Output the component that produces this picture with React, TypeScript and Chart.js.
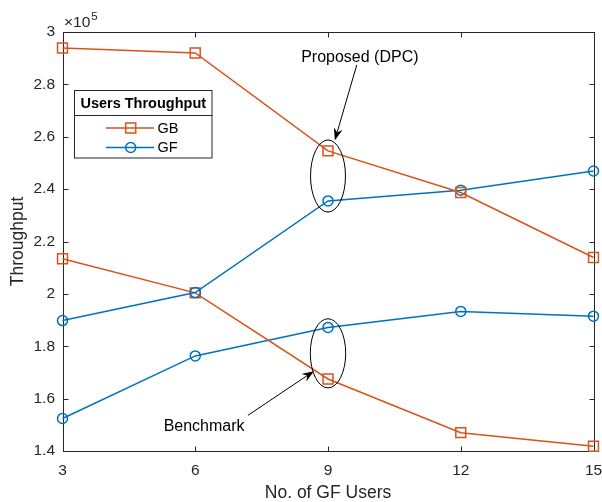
import React, { useEffect, useRef } from "react";
import { Chart, registerables } from "chart.js";
Chart.register(...registerables);

const categories = [3, 6, 9, 12, 15];
const gbProposed = [293900, 292000, 254600, 238700, 213900];
const gfProposed = [189800, 200500, 235500, 239600, 246900];
const gbBenchmark = [213400, 200400, 167500, 147000, 141800];
const gfBenchmark = [152400, 176300, 187200, 193300, 191500];
const yTicks = [140000, 160000, 180000, 200000, 220000, 240000, 260000, 280000, 300000];
const legendTitle = "Users Throughput";
const legendLabels = ["GB", "GF"];
const xTitle = "No. of GF Users";
const yTitle = "Throughput";
const proposedLabel = "Proposed (DPC)";
const benchmarkLabel = "Benchmark";

const ORANGE = "#D95319";
const BLUE = "#0072BD";
const AXIS = "#262626";
const FONT = "'Liberation Sans', Arial, Helvetica, sans-serif";

function pts(vals: number[]) {
  return categories.map((c, i) => ({ x: c, y: vals[i] }));
}

function drawArrow(ctx: CanvasRenderingContext2D, x1: number, y1: number, x2: number, y2: number) {
  const ang = Math.atan2(y2 - y1, x2 - x1);
  const len = 12, hw = 4.5, notch = 8;
  ctx.beginPath();
  ctx.moveTo(x1, y1);
  ctx.lineTo(x2 - Math.cos(ang) * notch, y2 - Math.sin(ang) * notch);
  ctx.strokeStyle = "#000";
  ctx.lineWidth = 1;
  ctx.stroke();
  const bx = x2 - Math.cos(ang) * len, by = y2 - Math.sin(ang) * len;
  const nx = -Math.sin(ang), ny = Math.cos(ang);
  ctx.beginPath();
  ctx.moveTo(x2, y2);
  ctx.lineTo(bx + nx * hw, by + ny * hw);
  ctx.lineTo(x2 - Math.cos(ang) * notch, y2 - Math.sin(ang) * notch);
  ctx.lineTo(bx - nx * hw, by - ny * hw);
  ctx.closePath();
  ctx.fillStyle = "#000";
  ctx.fill();
}

const decor = {
  id: "decor",
  beforeDatasetsDraw(chart: any) {
    const { ctx, chartArea, scales } = chart;
    const { left, right, top, bottom } = chartArea;
    const L = Math.round(left) + 0.5, R = Math.round(right) + 0.5;
    const T = Math.round(top) + 0.5, B = Math.round(bottom) + 0.5;
    ctx.save();
    ctx.strokeStyle = AXIS;
    ctx.lineWidth = 1;
    ctx.strokeRect(L, T, R - L, B - T);
    const tl = 5;
    ctx.beginPath();
    categories.forEach((c) => {
      const px = Math.round(scales.x.getPixelForValue(c)) + 0.5;
      ctx.moveTo(px, B); ctx.lineTo(px, B - tl);
      ctx.moveTo(px, T); ctx.lineTo(px, T + tl);
    });
    yTicks.forEach((v) => {
      const py = Math.round(scales.y.getPixelForValue(v)) + 0.5;
      ctx.moveTo(L, py); ctx.lineTo(L + tl, py);
      ctx.moveTo(R, py); ctx.lineTo(R - tl, py);
    });
    ctx.stroke();
    ctx.restore();
  },
  afterDraw(chart: any) {
    const { ctx, chartArea, scales } = chart;
    const { left, right, top, bottom } = chartArea;
    const xs = scales.x, ys = scales.y;
    ctx.save();
    // exponent label
    ctx.fillStyle = AXIS;
    ctx.textBaseline = "alphabetic";
    ctx.textAlign = "left";
    ctx.font = `15.5px ${FONT}`;
    ctx.fillText("\u00d710", left + 1.5, 27);
    const w = ctx.measureText("\u00d710").width;
    ctx.font = `11.5px ${FONT}`;
    ctx.fillText("5", left + 1.5 + w + 1, 20);

    // axis titles
    ctx.font = `17.5px ${FONT}`;
    ctx.textAlign = "center";
    ctx.textBaseline = "middle";
    ctx.fillText(xTitle, (left + right) / 2, 493);
    ctx.save();
    ctx.translate(18, (top + bottom) / 2);
    ctx.rotate(-Math.PI / 2);
    ctx.fillText(yTitle, 0, 0);
    ctx.restore();

    // ellipses
    const ell = (cx: number, cy: number, rxu: number, ryu: number) => {
      const px = xs.getPixelForValue(cx), py = ys.getPixelForValue(cy);
      const rx = Math.abs(xs.getPixelForValue(cx + rxu) - px);
      const ry = Math.abs(ys.getPixelForValue(cy + ryu) - py);
      ctx.beginPath();
      ctx.ellipse(px, py, rx, ry, 0, 0, Math.PI * 2);
      ctx.strokeStyle = "#000";
      ctx.lineWidth = 1;
      ctx.stroke();
    };
    ell(9, 245000, 0.395, 13760);
    ell(9, 177300, 0.4, 13200);

    // arrows
    drawArrow(ctx, xs.getPixelForValue(9.65), ys.getPixelForValue(287400), xs.getPixelForValue(9.155), ys.getPixelForValue(258700));
    drawArrow(ctx, xs.getPixelForValue(7.19), ys.getPixelForValue(153600), xs.getPixelForValue(8.68), ys.getPixelForValue(170500));

    // annotation texts
    ctx.fillStyle = "#000";
    ctx.font = `16px ${FONT}`;
    ctx.textAlign = "center";
    ctx.textBaseline = "middle";
    ctx.fillText(proposedLabel, xs.getPixelForValue(9.72), ys.getPixelForValue(290400));
    ctx.fillText(benchmarkLabel, xs.getPixelForValue(6.2), ys.getPixelForValue(149400));

    // legend
    const lx = 74.5, ly = 90.5, lw = 137.5, lh = 67.5;
    ctx.fillStyle = "#fff";
    ctx.fillRect(lx, ly, lw, lh);
    ctx.strokeStyle = AXIS;
    ctx.lineWidth = 1;
    ctx.strokeRect(lx, ly, lw, lh);
    ctx.beginPath();
    ctx.moveTo(lx, 115.5); ctx.lineTo(lx + lw, 115.5);
    ctx.stroke();
    ctx.fillStyle = "#000";
    ctx.font = `bold 14.5px ${FONT}`;
    ctx.textAlign = "center";
    ctx.fillText(legendTitle, lx + lw / 2, 103.5);
    const rows = [
      { y: 128, c: ORANGE, shape: "rect" },
      { y: 147.5, c: BLUE, shape: "circle" },
    ];
    rows.forEach((r, i) => {
      ctx.strokeStyle = r.c;
      ctx.lineWidth = 1.5;
      ctx.beginPath();
      ctx.moveTo(106, r.y); ctx.lineTo(154, r.y);
      ctx.stroke();
      ctx.beginPath();
      if (r.shape === "rect") ctx.rect(130.7 - 5, r.y - 5, 10, 10);
      else ctx.arc(130.7, r.y, 5, 0, Math.PI * 2);
      ctx.stroke();
      ctx.fillStyle = "#000";
      ctx.font = `14.5px ${FONT}`;
      ctx.textAlign = "left";
      ctx.fillText(legendLabels[i], 157.5, r.y + 0.5);
    });
    ctx.restore();
  },
};

export default function App() {
  const ref = useRef<HTMLCanvasElement>(null);
  useEffect(() => {
    if (!ref.current) return;
    const mk = (label: string, vals: number[], color: string, shape: string) => ({
      label,
      data: pts(vals),
      borderColor: color,
      backgroundColor: "transparent",
      borderWidth: 1.5,
      pointStyle: shape,
      pointRadius: shape === "rect" ? 7 : 5,
      pointBorderWidth: 1.5,
      pointBorderColor: color,
      pointBackgroundColor: "transparent",
      tension: 0,
      clip: false,
    });
    const chart = new Chart(ref.current, {
      type: "line",
      data: {
        datasets: [
          mk("GB", gbProposed, ORANGE, "rect"),
          mk("GF", gfProposed, BLUE, "circle"),
          mk("GB benchmark", gbBenchmark, ORANGE, "rect"),
          mk("GF benchmark", gfBenchmark, BLUE, "circle"),
        ] as any,
      },
      options: {
        responsive: false,
        animation: false,
        devicePixelRatio: 1,
        layout: { padding: { left: 0, top: 32, right: 8, bottom: 0 } },
        plugins: { legend: { display: false }, tooltip: { enabled: false } },
        scales: {
          x: {
            type: "linear",
            min: 3,
            max: 15,
            afterBuildTicks: (s: any) => { s.ticks = categories.map((v) => ({ value: v })); },
            afterFit: (s: any) => { s.height = 51; s.paddingLeft = 0; s.paddingRight = 0; },
            grid: { display: false, drawTicks: false },
            border: { display: false },
            ticks: { color: AXIS, font: { family: FONT, size: 15.5 }, padding: 10, maxRotation: 0 },
          },
          y: {
            type: "linear",
            min: 140000,
            max: 300000,
            afterBuildTicks: (s: any) => { s.ticks = yTicks.map((v) => ({ value: v })); },
            afterFit: (s: any) => { s.width = 62.5; s.paddingTop = 0; s.paddingBottom = 0; },
            grid: { display: false, drawTicks: false },
            border: { display: false },
            ticks: {
              color: AXIS,
              font: { family: FONT, size: 15.5 },
              padding: 7.5,
              callback: (v: any) => String(Math.round((v / 1e5) * 10) / 10),
            },
          },
        },
      } as any,
      plugins: [decor],
    });
    return () => chart.destroy();
  }, []);
  return (
    <div style={{ position: "fixed", left: 0, top: 0, width: 602, height: 502, background: "#fff" }}>
      <canvas ref={ref} width={602} height={502} style={{ display: "block" }} />
    </div>
  );
}
